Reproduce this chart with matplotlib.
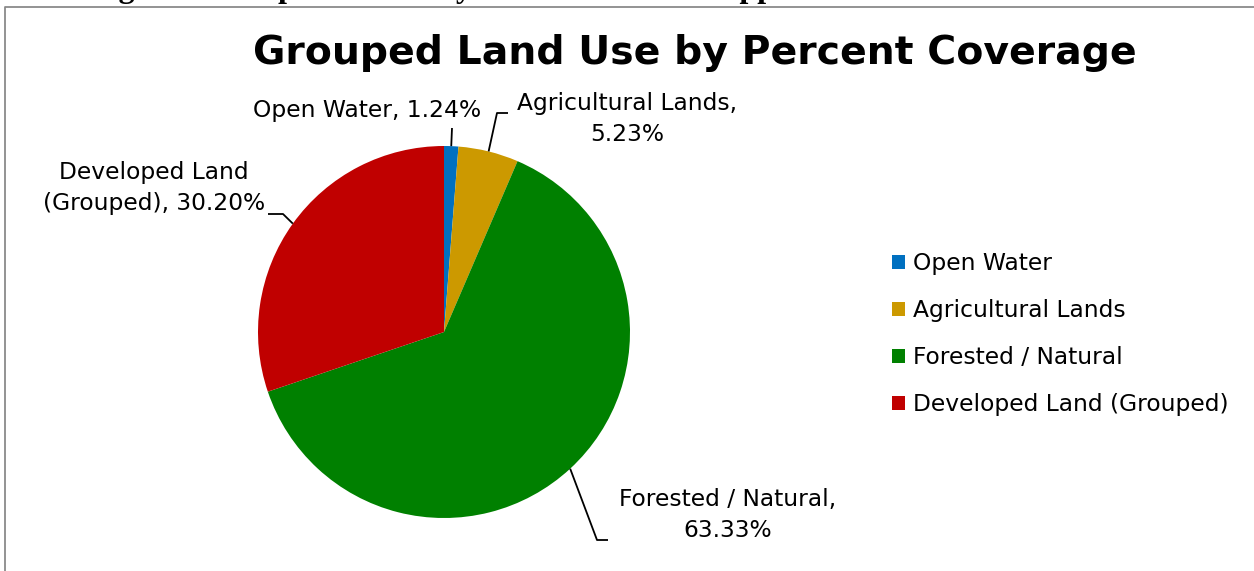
import numpy as np
import matplotlib
matplotlib.use("Agg")
import matplotlib.pyplot as plt
from matplotlib.patches import Patch

categories = ["Open Water", "Agricultural Lands", "Forested / Natural", "Developed Land (Grouped)"]
percents = [1.24, 5.23, 63.33, 30.20]
label_texts = ["Open Water, 1.24%", "Agricultural Lands,\n5.23%",
               "Forested / Natural,\n63.33%", "Developed Land\n(Grouped), 30.20%"]
colors = ["#0070C0", "#CC9900", "#008000", "#C00000"]
title = "Grouped Land Use by Percent Coverage"
caption = "Figure 6: Graph of Primary Land Uses in the Upper Catawba River Watershed"

W, H = 1254, 571
fig = plt.figure(figsize=(W / 100, H / 100), dpi=100)
ax = fig.add_axes([0, 0, 1, 1])

def Y(y):
    return H - y

cx, cy, R = 444, Y(332), 186
wedges, _ = ax.pie(percents, colors=colors, startangle=90, counterclock=False,
                   center=(cx, cy), radius=R, wedgeprops=dict(linewidth=0))
ax.set_xlim(0, W)
ax.set_ylim(0, H)
ax.set_aspect('equal')
ax.axis('off')

font = 'DejaVu Sans'
fs = 16.8
# text label layout (pixel coords): center, elbow points
label_layout = [
    dict(xy=(367, 111), path=[(452, 128)]),
    dict(xy=(627, 119), path=[(497, 113), (508, 113)]),
    dict(xy=(728, 515), path=[(597, 540), (608, 540)]),
    dict(xy=(154, 188), path=[(283, 214), (268, 214)]),
]
for w, txt, lay in zip(wedges, label_texts, label_layout):
    mid = np.deg2rad((w.theta1 + w.theta2) / 2)
    px, py = cx + R * np.cos(mid), cy + R * np.sin(mid)
    xs = [px] + [p[0] for p in lay['path']]
    ys = [py] + [Y(p[1]) for p in lay['path']]
    ax.plot(xs, ys, color='black', lw=1.3, solid_capstyle='butt')
    ax.text(lay['xy'][0], Y(lay['xy'][1]), txt, ha='center', va='center',
            fontsize=fs, family=font, color='black', linespacing=1.45)

ax.text(695, Y(64), title, ha='center', va='baseline', fontsize=28.4,
        fontweight='bold', family=font, color='black')

# chart border (partially visible)
ax.plot([4.5, 4.5, W + 5], [-5, Y(7), Y(7)], color='#8a8a8a', lw=1.3, clip_on=False)

# caption above the chart, cut off by the top edge as in the source
ax.text(90, Y(-3), caption, ha='left', va='baseline', fontsize=23,
        fontweight='bold', family='Liberation Serif', color='black', clip_on=False)

handles = [Patch(facecolor=c, edgecolor='none') for c in colors]
leg = ax.legend(handles, categories, loc='upper left',
                bbox_to_anchor=(892 / W, 1 - 252 / H), bbox_transform=fig.transFigure,
                frameon=False, prop=dict(family=font, size=fs),
                handlelength=0.56, handleheight=0.56, handletextpad=0.35,
                labelspacing=1.03, borderaxespad=0, borderpad=0)

fig.savefig('out.png', dpi=100)
